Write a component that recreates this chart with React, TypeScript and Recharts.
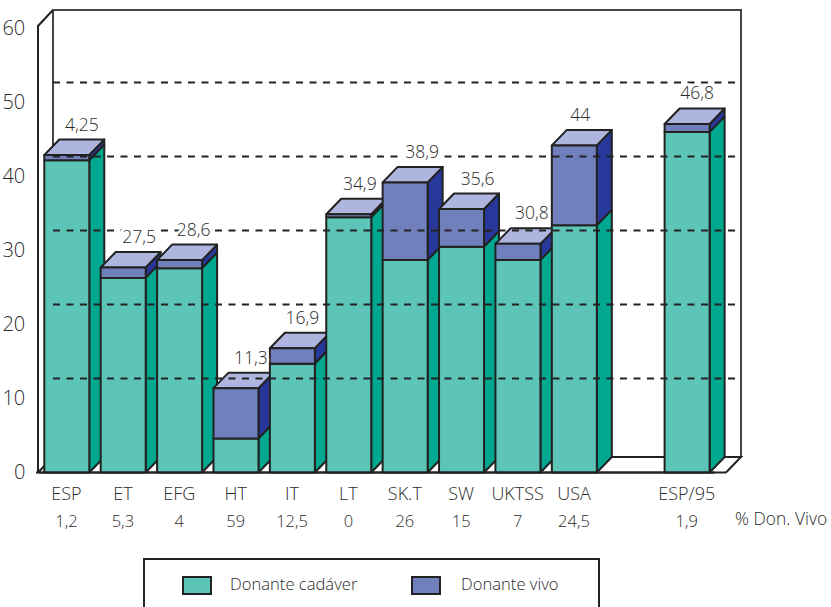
import React from "react";
import { BarChart, Bar, XAxis, YAxis, ReferenceLine, LabelList, Legend } from "recharts";

const categories = ["ESP", "ET", "EFG", "HT", "IT", "LT", "SK.T", "SW", "UKTSS", "USA", "", "ESP/95"];
const donorPercent = ["1,2", "5,3", "4", "59", "12,5", "0", "26", "15", "7", "24,5", "", "1,9"];
const totalLabels = ["4,25", "27,5", "28,6", "11,3", "16,9", "34,9", "38,9", "35,6", "30,8", "44", "", "46,8"];
const cadaver = [42.2, 26.3, 27.6, 4.6, 14.7, 34.5, 28.7, 30.5, 28.7, 33.4, null, 46.0];
const vivo = [0.7, 1.4, 1.1, 6.8, 2.1, 0.4, 10.5, 5.1, 2.2, 10.8, null, 1.1];
const yTicks = [0, 10, 20, 30, 40, 50, 60];
const gridValues = [10, 20, 30, 40, 50];
const labelShiftX = [15, 16, 14, 15, 10, 11, 17, 16, 14, 6, 0, 10];

const data = categories.map((name, i) => ({
  name,
  donor: donorPercent[i],
  label: totalLabels[i],
  cadaver: cadaver[i],
  vivo: vivo[i],
}));

const FONT = "'Open Sans', sans-serif";
const TEXT = "#2b2b2b";
const LINE = "#222";
const TEAL = "#5DC5B7";
const TEAL_SIDE = "#00A88F";
const BLUE = "#7080BC";
const BLUE_SIDE = "#28389A";
const TOP = "#AEB5DE";
const DX = 15;
const DY = 15.5;
const GRID_LIFT = 20;

const MARGIN = { top: 28.5, right: 116, bottom: 104.5, left: 0.3 };
const Y_W = 38;

const face = { stroke: LINE, strokeWidth: 2, strokeLinejoin: "round" as const };

const pts = (a: number[][]) => a.map((p) => p.join(",")).join(" ");

function ColumnBody(props: any) {
  const { x, y, width: w, height: h, payload } = props;
  if (payload.cadaver == null) return null;
  const bh = (h * payload.vivo) / payload.cadaver;
  return (
    <g>
      <polygon
        points={pts([[x + w, y - bh], [x + w + DX, y - bh - DY], [x + w + DX, y - DY], [x + w, y]])}
        fill={BLUE_SIDE}
        {...face}
      />
      <polygon
        points={pts([[x + w, y], [x + w + DX, y - DY], [x + w + DX, y + h - DY], [x + w, y + h]])}
        fill={TEAL_SIDE}
        {...face}
      />
      <polygon
        points={pts([[x, y - bh], [x + DX, y - bh - DY], [x + w + DX, y - bh - DY], [x + w, y - bh]])}
        fill={TOP}
        {...face}
      />
      <rect x={x} y={y} width={w} height={h} fill={TEAL} {...face} />
    </g>
  );
}

function BlueFront(props: any) {
  const { x, y, width: w, height: h, payload } = props;
  if (payload.vivo == null) return null;
  return <rect x={x} y={y} width={w} height={h} fill={BLUE} {...face} />;
}

function TotalLabel(props: any) {
  const { x, y, width, value, index } = props;
  if (!value) return null;
  return (
    <text
      x={x + width / 2 + labelShiftX[index]}
      y={y - DY - 16}
      textAnchor="middle"
      dominantBaseline="central"
      fontFamily={FONT}
      fontWeight={300}
      fontSize={17.5}
      fill={TEXT}
      stroke="#fff"
      strokeWidth={5}
      paintOrder="stroke"
    >
      {value}
    </text>
  );
}

function XTick(props: any) {
  const { x, payload, index } = props;
  return (
    <g>
      <text x={x} y={493} textAnchor="middle" dominantBaseline="central" fontFamily={FONT} fontWeight={300} fontSize={18} fill={TEXT}>
        {payload.value}
      </text>
      <text x={x} y={520} textAnchor="middle" dominantBaseline="central" fontFamily={FONT} fontWeight={300} fontSize={16.5} fill={TEXT}>
        {donorPercent[index]}
      </text>
    </g>
  );
}

function YTick(props: any) {
  const { x, y, payload } = props;
  return (
    <text x={x + 1} y={y - 1.5} textAnchor="end" dominantBaseline="central" fontFamily={FONT} fontWeight={300} fontSize={20} fill={TEXT}>
      {payload.value}
    </text>
  );
}

function GridShape(props: any) {
  const { y1 } = props;
  const y = y1 - GRID_LIFT;
  return <line x1={53} x2={741} y1={y} y2={y} stroke={LINE} strokeWidth={2} strokeDasharray="7 6.5" />;
}

function LegendBox() {
  const item = (left: number, color: string, text: string, textLeft: number) => (
    <React.Fragment key={text}>
      <div style={{ position: "absolute", left, top: 16, width: 26, height: 15, background: color, border: `2px solid ${LINE}` }} />
      <div style={{ position: "absolute", left: textLeft, top: 12, fontFamily: FONT, fontWeight: 300, fontSize: 16.6, color: TEXT, whiteSpace: "nowrap" }}>
        {text}
      </div>
    </React.Fragment>
  );
  return (
    <div style={{ position: "absolute", left: 143, top: 558, width: 457, height: 70, border: `2px solid ${LINE}`, boxSizing: "border-box", background: "#fff" }}>
      {item(37, TEAL, "Donante cadáver", 85)}
      {item(266, BLUE, "Donante vivo", 316)}
    </div>
  );
}

export default function App() {
  return (
    <div style={{ position: "absolute", left: 0, top: 0, width: 831, height: 607, overflow: "hidden", background: "#fff" }}>
      <BarChart width={831} height={607} data={data} margin={MARGIN} barSize={45} style={{ overflow: "visible" }}>
        <g fill="none" stroke={LINE} strokeWidth={2}>
          <polyline points="53,457 53,10 741,10 741,457" stroke="#444" />
          <polyline points="38,472.5 53,457 741,457 726,472.5" />
          <polyline points="38,472.5 38,26 53,10" />
          <line x1="36" x2="726" y1="472.5" y2="472.5" />
        </g>
        {gridValues.map((v) => (
          <ReferenceLine key={v} y={v} ifOverflow="visible" shape={<GridShape />} />
        ))}
        <XAxis
          dataKey="name"
          interval={0}
          tickLine={false}
          axisLine={{ stroke: LINE, strokeWidth: 2 }}
          tick={<XTick />}
          allowDuplicatedCategory={false}
        />
        <YAxis
          width={Y_W}
          domain={[0, 60]}
          ticks={yTicks}
          tickLine={false}
          axisLine={false}
          tickMargin={8}
          tick={<YTick />}
        />
        <Bar dataKey="cadaver" stackId="a" name="Donante cadáver" fill={TEAL} isAnimationActive={false} shape={<ColumnBody />} />
        <Bar dataKey="vivo" stackId="a" name="Donante vivo" fill={BLUE} isAnimationActive={false} shape={<BlueFront />}>
          <LabelList dataKey="label" content={<TotalLabel />} />
        </Bar>
        <text x={735} y={518} dominantBaseline="central" fontFamily={FONT} fontWeight={300} fontSize={17.4} fill={TEXT}>
          % Don. Vivo
        </text>
        <Legend content={() => <LegendBox />} wrapperStyle={{ position: "absolute", left: 0, top: 0, width: 0, height: 0 }} />
      </BarChart>
    </div>
  );
}
